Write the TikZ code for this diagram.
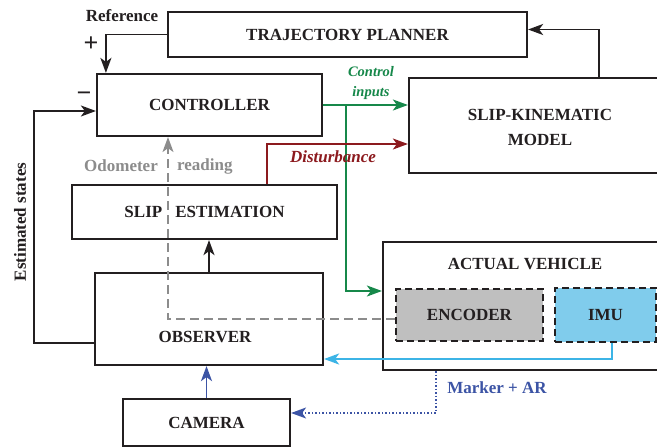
\documentclass[tikz,border=0pt]{standalone}
\usepackage{fontspec}
\setmainfont{Liberation Serif}
\usetikzlibrary{arrows.meta}

\definecolor{ink}{RGB}{35,31,32}
\definecolor{ctrlgreen}{RGB}{22,136,74}
\definecolor{distred}{RGB}{140,26,30}
\definecolor{imublue}{RGB}{60,180,230}
\definecolor{imufill}{RGB}{128,204,236}
\definecolor{camblue}{RGB}{60,84,165}
\definecolor{odogray}{RGB}{140,140,140}
\definecolor{encfill}{RGB}{191,191,191}

\tikzset{
    block/.style={draw=ink, line width=2.2pt, inner sep=0pt, text=ink,
        font=\bfseries\fontsize{17}{24}\selectfont, align=center},
    sensor/.style={block, dash pattern=on 7pt off 4pt},
    flow/.style={line width=1.9pt, -{Stealth[length=15pt,width=11pt,inset=4pt]}},
    lbl/.style={inner sep=0pt, text=ink, font=\bfseries\fontsize{17}{20}\selectfont},
}

\begin{document}
\begin{tikzpicture}[x=1pt, y=-1pt]
    \clip (0,0) rectangle (657,447);
    \fill[white] (0,0) rectangle (657,447);

    % blocks
    \node[block, minimum width=359, minimum height=45] (traj) at (347.5,34.5) {TRAJECTORY PLANNER};
    \node[block, minimum width=225, minimum height=62] (ctrl) at (209.5,105) {CONTROLLER};
    \node[block, minimum width=281, minimum height=95] (slipkin) at (549.5,125.5) {};
    \node[lbl, align=center, font=\bfseries\fontsize{17}{25}\selectfont] (slipkintext) at (540,127) {SLIP-KINEMATIC\\MODEL};
    \node[block, minimum width=265, minimum height=54] (slipest) at (204.5,212) {SLIP\hspace{13pt}ESTIMATION};
    \node[block, minimum width=228, minimum height=92] (obs) at (209,319) {};
    \node[lbl] (obstext) at (205,337) {OBSERVER};
    \node[block, minimum width=317, minimum height=128] (veh) at (541.5,306) {};
    \node[lbl] (vehtext) at (525,264) {ACTUAL VEHICLE};
    \node[sensor, fill=encfill, minimum width=147, minimum height=52] (enc) at (469.5,315) {ENCODER};
    \node[sensor, fill=imufill, minimum width=101, minimum height=54] (imu) at (605.5,315) {IMU};
    \node[block, minimum width=167, minimum height=47] (cam) at (206.5,422.5) {CAMERA};

    % signal paths
    \draw[flow, ink] (traj.west) -| ([xshift=10pt]ctrl.north west);
    \draw[flow, ink] ([xshift=49.5pt]slipkin.north) |- ([yshift=5pt]traj.east);
    \draw[flow, ink] ([yshift=-24pt]obs.west) -- ++(-60,0) |- ([yshift=-6pt]ctrl.west);
    \draw[flow, ink] (obs.north) -- (obs.north |- slipest.south);

    \coordinate (split) at ([xshift=23pt]ctrl.east);
    \draw[flow, ctrlgreen] (ctrl.east) -- (ctrl.east -| slipkin.west);
    \draw[flow, ctrlgreen] (split) |- ([yshift=15pt]veh.west);
    \draw[flow, distred] ([xshift=62.5pt]slipest.north) |- ([yshift=-18.5pt]slipkin.west);

    \draw[flow, odogray, line width=1.7pt, dash pattern=on 9pt off 5pt]
        ([yshift=-4pt]enc.west) -| ([xshift=-41.5pt]ctrl.south);
    \draw[flow, imublue] ([xshift=6.5pt]imu.south) |- ([yshift=-40pt]obs.east);
    \draw[flow, camblue] (cam.north) -- (cam.north |- obs.south);
    \draw[flow, camblue, line width=1.5pt, dotted]
        ([xshift=-105.5pt]veh.south) |- ([yshift=9.5pt]cam.east);

    % labels
    \node[lbl] (reflabel) at (122,16) {Reference};
    \node[lbl, font=\bfseries\fontsize{26}{26}\selectfont] (plus) at (91,44) {+};
    \node[lbl, font=\bfseries\fontsize{26}{26}\selectfont] (minus) at (84,97) {−};
    \node[lbl, rotate=90] (eststates) at (20,222) {Estimated states};
    \node[lbl, text=odogray, anchor=east] (odo1) at (158,166) {Odometer};
    \node[lbl, text=odogray, anchor=west] (odo2) at (177,166) {reading};
    \node[lbl, text=distred, font=\bfseries\itshape\fontsize{17}{20}\selectfont] (distlabel) at (333,157) {Disturbance};
    \node[lbl, text=ctrlgreen, align=center, font=\bfseries\itshape\fontsize{14.5}{20}\selectfont] (ctrllabel) at (371,83) {Control\\inputs};
    \node[lbl, text=camblue] (markerlabel) at (497,388) {Marker + AR};
\end{tikzpicture}
\end{document}
